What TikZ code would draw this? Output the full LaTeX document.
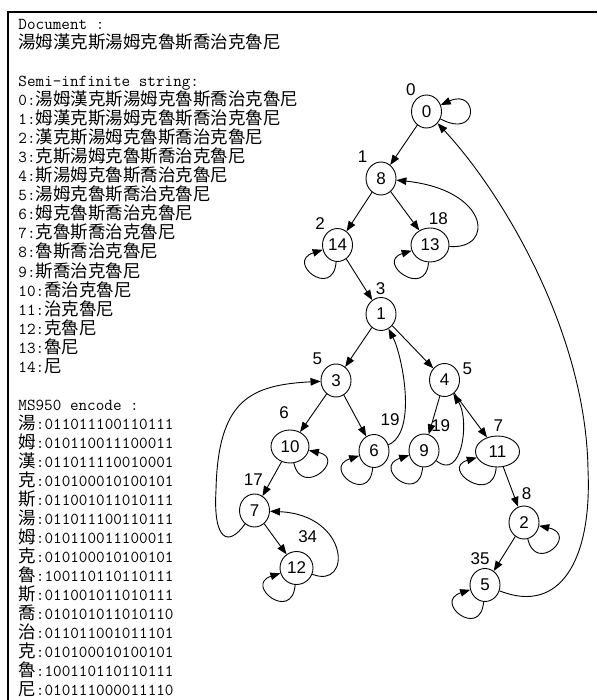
\documentclass[tikz,border=0pt]{standalone}
\usepackage{fontspec}
\setmainfont{Liberation Sans}
\newfontfamily\cjk{Noto Sans CJK TC}
\usetikzlibrary{arrows.meta,shapes.geometric}
\newcommand\CJ[1]{{\fontsize{17.5}{19}\cjk #1}}
\begin{document}
\begin{tikzpicture}[x=1pt,y=-1pt,line width=0.9pt,
  st/.style={draw,ellipse,minimum width=30pt,minimum height=33pt,inner sep=0pt,font=\fontsize{17}{17}\selectfont},
  lbl/.style={inner sep=0pt,font=\fontsize{17}{17}\selectfont},
  arr/.style={-{Triangle[length=10pt,width=7.5pt]}},
  txt/.style={anchor=base west,inner sep=0pt,font=\fontsize{16.7}{19}\ttfamily}]
\useasboundingbox (0,0) rectangle (597,700);
\draw[line width=2pt] (8.3,700) -- (8.3,12.3) -- (597,12.3);
% text block
\node[txt] (l0) at (18,{30+19*0}) {Document :};
\node[txt] (l1) at (18,{30+19*1}) {\CJ{湯姆漢克斯湯姆克魯斯喬治克魯尼}};
\node[txt] (l3) at (18,{30+19*3}) {Semi-infinite string:};
\node[txt] (l4) at (18,{30+19*4}) {0:\CJ{湯姆漢克斯湯姆克魯斯喬治克魯尼}};
\node[txt] (l5) at (18,{30+19*5}) {1:\CJ{姆漢克斯湯姆克魯斯喬治克魯尼}};
\node[txt] (l6) at (18,{30+19*6}) {2:\CJ{漢克斯湯姆克魯斯喬治克魯尼}};
\node[txt] (l7) at (18,{30+19*7}) {3:\CJ{克斯湯姆克魯斯喬治克魯尼}};
\node[txt] (l8) at (18,{30+19*8}) {4:\CJ{斯湯姆克魯斯喬治克魯尼}};
\node[txt] (l9) at (18,{30+19*9}) {5:\CJ{湯姆克魯斯喬治克魯尼}};
\node[txt] (l10) at (18,{30+19*10}) {6:\CJ{姆克魯斯喬治克魯尼}};
\node[txt] (l11) at (18,{30+19*11}) {7:\CJ{克魯斯喬治克魯尼}};
\node[txt] (l12) at (18,{30+19*12}) {8:\CJ{魯斯喬治克魯尼}};
\node[txt] (l13) at (18,{30+19*13}) {9:\CJ{斯喬治克魯尼}};
\node[txt] (l14) at (18,{30+19*14}) {10:\CJ{喬治克魯尼}};
\node[txt] (l15) at (18,{30+19*15}) {11:\CJ{治克魯尼}};
\node[txt] (l16) at (18,{30+19*16}) {12:\CJ{克魯尼}};
\node[txt] (l17) at (18,{30+19*17}) {13:\CJ{魯尼}};
\node[txt] (l18) at (18,{30+19*18}) {14:\CJ{尼}};
\node[txt] (l20) at (18,{30+19*20}) {MS950 encode :};
\node[txt] (l21) at (18,{30+19*21}) {\CJ{湯}:011011100110111};
\node[txt] (l22) at (18,{30+19*22}) {\CJ{姆}:010110011100011};
\node[txt] (l23) at (18,{30+19*23}) {\CJ{漢}:011011110010001};
\node[txt] (l24) at (18,{30+19*24}) {\CJ{克}:010100010100101};
\node[txt] (l25) at (18,{30+19*25}) {\CJ{斯}:011001011010111};
\node[txt] (l26) at (18,{30+19*26}) {\CJ{湯}:011011100110111};
\node[txt] (l27) at (18,{30+19*27}) {\CJ{姆}:010110011100011};
\node[txt] (l28) at (18,{30+19*28}) {\CJ{克}:010100010100101};
\node[txt] (l29) at (18,{30+19*29}) {\CJ{魯}:100110110110111};
\node[txt] (l30) at (18,{30+19*30}) {\CJ{斯}:011001011010111};
\node[txt] (l31) at (18,{30+19*31}) {\CJ{喬}:010101011010110};
\node[txt] (l32) at (18,{30+19*32}) {\CJ{治}:011011001011101};
\node[txt] (l33) at (18,{30+19*33}) {\CJ{克}:010100010100101};
\node[txt] (l34) at (18,{30+19*34}) {\CJ{魯}:100110110110111};
\node[txt] (l35) at (18,{30+19*35}) {\CJ{尼}:010111000011110};
% nodes
\node[st] (n0) at (426.5,111.5) {0};
\node[st] (n8) at (381,178.5) {8};
\node[st] (n14) at (337.5,245) {14};
\node[st,minimum width=38pt,minimum height=34pt] (n13) at (430,245) {13};
\node[st] (n1) at (381,314) {1};
\node[st] (n3) at (336,380.5) {3};
\node[st] (n4) at (444.5,380) {4};
\node[st,minimum width=38pt] (n10) at (290,446.5) {10};
\node[st] (n6) at (374,451) {6};
\node[st] (n9) at (424,450.5) {9};
\node[st,minimum width=44pt,minimum height=31pt] (n11) at (497.5,451.5) {11};
\node[st] (n7) at (254.5,510.5) {7};
\node[st] (n2) at (524,522.5) {2};
\node[st,minimum width=33pt] (n12) at (296.5,568) {12};
\node[st] (n5) at (485,585) {5};
% labels
\node[lbl] (a0) at (410.8,89.2) {0};
\node[lbl] (a8) at (362.7,156.7) {1};
\node[lbl] (a14) at (320,223.3) {2};
\node[lbl] (a13) at (438.3,218.7) {18};
\node[lbl] (a1) at (380.7,289) {3};
\node[lbl] (a3) at (317.3,358.3) {5};
\node[lbl] (a4) at (467.3,368.3) {5};
\node[lbl] (a10) at (284,412.3) {6};
\node[lbl] (a6) at (390,420) {19};
\node[lbl] (a9) at (440.7,426) {19};
\node[lbl] (a11) at (498.3,426) {7};
\node[lbl] (a7) at (253.3,479.3) {17};
\node[lbl] (a12) at (307.7,536.7) {34};
\node[lbl] (a2) at (526.7,493.3) {8};
\node[lbl] (a5) at (480,558.3) {35};
% tree edges
\draw[arr] (n0) -- (n8);
\draw[arr] (n8) -- (n14);
\draw[arr] (n8) -- (n13);
\draw[arr] (n14) -- (n1);
\draw[arr] (n1) -- (n3);
\draw[arr] (n1) -- (n4);
\draw[arr] (n3) -- (n10);
\draw[arr] (n3) -- (n6);
\draw[arr] (n4) -- (n9);
\draw[arr] (n4) -- (n11);
\draw[arr] (n10) -- (n7);
\draw[arr] (n7) -- (n12);
\draw[arr] (n11) -- (n2);
\draw[arr] (n2) -- (n5);
% back curves
\draw[arr] (n13) .. controls (495,250) and (490,190) .. (n8);
\draw[arr] (n6) .. controls (418,432) and (402,355) .. (n1);
\draw[arr] (n9) .. controls (462,482) and (470,420) .. (n4);
\draw[arr] (n12) .. controls (352,590) and (350,515) .. (n7);
\draw[arr] (n7) .. controls (228,548) and (213,540) .. (216,490) .. controls (218,400) and (250,385) .. (n3);
\draw[arr] (n5) .. controls (560,615) and (592,560) .. (588,470) .. controls (586,330) and (500,190) .. (n0);
% self loops
\draw[arr] (n0) .. controls (480,140) and (478,88) .. (n0);
\draw[arr] (n14) .. controls ({337.5-4.5},{245+55}) and ({337.5-52.5},{245+17}) .. (n14);
\draw[arr] (n13) .. controls ({430-4.5},{245+55}) and ({430-55},{245+17}) .. (n13);
\draw[arr] (n6) .. controls ({374-4.5},{451+55}) and ({374-52.5},{451+17}) .. (n6);
\draw[arr] (n9) .. controls ({424-4.5},{450.5+55}) and ({424-52.5},{450.5+17}) .. (n9);
\draw[arr] (n11) .. controls ({497.5-4.5},{451.5+55}) and ({497.5-58},{451.5+17}) .. (n11);
\draw[arr] (n12) .. controls ({296.5-4.5},{568+55}) and ({296.5-52.5},{568+17}) .. (n12);
\draw[arr] (n5) .. controls ({485-4.5},{585+55}) and ({485-52.5},{585+17}) .. (n5);
\draw[arr] (n10) .. controls ({290+12},{446.5+52}) and ({290+57},{446.5+12}) .. (n10);
\draw[arr] (n2) .. controls ({524+12},{522.5+52}) and ({524+55},{522.5+12}) .. (n2);
\end{tikzpicture}
\end{document}
